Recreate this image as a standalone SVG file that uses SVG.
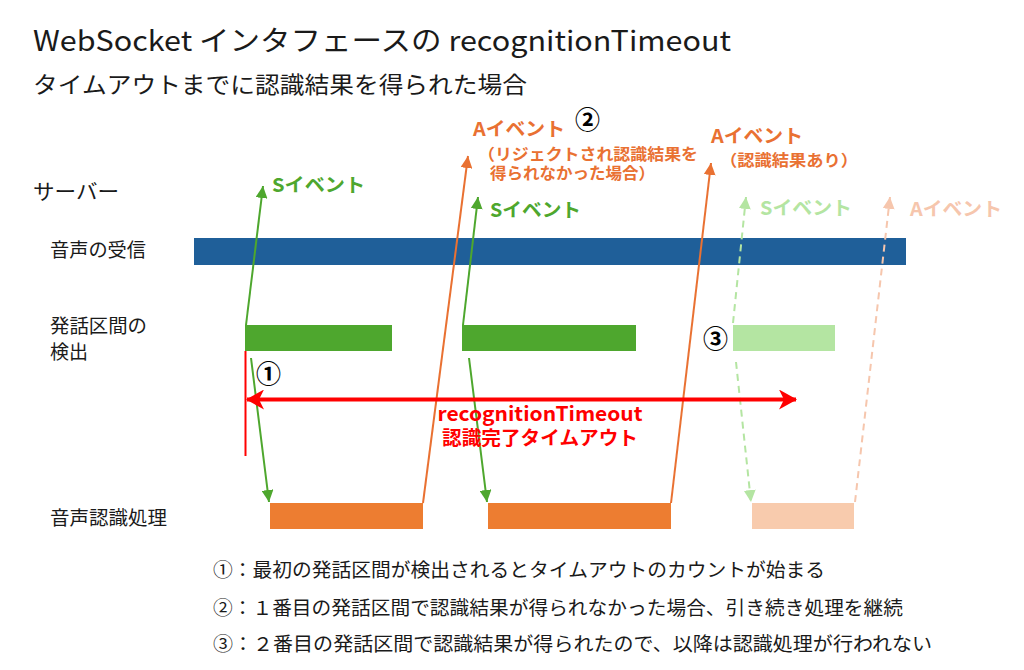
<svg xmlns="http://www.w3.org/2000/svg" width="1024" height="670" viewBox="0 0 1024 670">
<style>
text{font-family:"Noto Sans CJK JP","Noto Sans",sans-serif;}
.t{fill:#1a1a1a;font-weight:400;}
.b{font-weight:700;}
.g{fill:#4EA72E;}
.o{fill:#E97132;}
.lg{fill:#B4E5A2;}
.lo{fill:#F6C6AD;}
.r{fill:#FF0000;}
.lnG{stroke:#4EA72E;stroke-width:2;fill:none;}
.lnO{stroke:#E97132;stroke-width:2;fill:none;}
.lnLG{stroke:#B4E5A2;stroke-width:2;fill:none;stroke-dasharray:7 5;}
.lnLO{stroke:#F6C6AD;stroke-width:2;fill:none;stroke-dasharray:7 5;}
</style>
<defs>
<marker id="aG" viewBox="0 0 10 10" refX="10" refY="5" markerWidth="12" markerHeight="12" markerUnits="userSpaceOnUse" orient="auto"><path d="M0,0 L10,5 L0,10 z" fill="#4EA72E"/></marker>
<marker id="aO" viewBox="0 0 10 10" refX="10" refY="5" markerWidth="12" markerHeight="12" markerUnits="userSpaceOnUse" orient="auto"><path d="M0,0 L10,5 L0,10 z" fill="#E97132"/></marker>
<marker id="aLG" viewBox="0 0 10 10" refX="10" refY="5" markerWidth="12" markerHeight="12" markerUnits="userSpaceOnUse" orient="auto"><path d="M0,0 L10,5 L0,10 z" fill="#B4E5A2"/></marker>
<marker id="aLO" viewBox="0 0 10 10" refX="10" refY="5" markerWidth="12" markerHeight="12" markerUnits="userSpaceOnUse" orient="auto"><path d="M0,0 L10,5 L0,10 z" fill="#F6C6AD"/></marker>
<marker id="aR" viewBox="0 0 18 20" refX="17" refY="10" markerWidth="18" markerHeight="20" markerUnits="userSpaceOnUse" orient="auto-start-reverse"><path d="M0,0 L18,10 L0,20 L5,10 z" fill="#FF0000"/></marker>
</defs>
<rect width="1024" height="670" fill="#ffffff"/>

<g id="title">
<text class="t" x="33" y="51" font-size="28" textLength="698" lengthAdjust="spacingAndGlyphs">WebSocket インタフェースの recognitionTimeout</text>
<text class="t" x="33" y="93" font-size="23" textLength="494" lengthAdjust="spacingAndGlyphs">タイムアウトまでに認識結果を得られた場合</text>
</g>

<g id="lane-labels">
<text class="t" x="33" y="199" font-size="21" textLength="86" lengthAdjust="spacingAndGlyphs">サーバー</text>
<text class="t" x="50" y="257" font-size="19" textLength="96" lengthAdjust="spacingAndGlyphs">音声の受信</text>
<text class="t" font-size="19"><tspan x="50" y="333" textLength="97" lengthAdjust="spacingAndGlyphs">発話区間の</tspan><tspan x="50" y="359" textLength="38" lengthAdjust="spacingAndGlyphs">検出</tspan></text>
<text class="t" x="50" y="525" font-size="19" textLength="117" lengthAdjust="spacingAndGlyphs">音声認識処理</text>
</g>

<g id="audio-receive"><rect x="194" y="238" width="712" height="27" fill="#1F5F99"/></g>
<g id="vad-1"><rect x="245" y="325" width="147" height="26" fill="#4EA72E"/></g>
<g id="vad-2"><rect x="462" y="325" width="174" height="26" fill="#4EA72E"/></g>
<g id="vad-3"><rect x="733" y="325" width="102" height="26" fill="#B4E5A2"/></g>
<g id="asr-1"><rect x="270" y="503" width="153" height="26" fill="#ED7D31"/></g>
<g id="asr-2"><rect x="488" y="503" width="183" height="26" fill="#ED7D31"/></g>
<g id="asr-3"><rect x="752" y="503" width="102" height="26" fill="#F8CBAD"/></g>

<g id="connectors">
<line class="lnG" x1="246" y1="325" x2="263" y2="186" marker-end="url(#aG)"/>
<line class="lnG" x1="251" y1="358" x2="269" y2="502" marker-end="url(#aG)"/>
<line class="lnO" x1="423" y1="503" x2="468" y2="156" marker-end="url(#aO)"/>
<line class="lnG" x1="463" y1="325" x2="478" y2="197" marker-end="url(#aG)"/>
<line class="lnG" x1="469" y1="358" x2="487" y2="502" marker-end="url(#aG)"/>
<line class="lnO" x1="671" y1="503" x2="711" y2="163" marker-end="url(#aO)"/>
<line class="lnLG" x1="733" y1="323" x2="746" y2="197" marker-end="url(#aLG)"/>
<line class="lnLG" x1="736" y1="362" x2="751" y2="502" marker-end="url(#aLG)"/>
<line class="lnLO" x1="855" y1="502" x2="890" y2="197" marker-end="url(#aLO)"/>
<line x1="245.5" y1="351" x2="245.5" y2="456" stroke="#FF0000" stroke-width="2"/>
<line x1="247" y1="399.5" x2="796" y2="399.5" stroke="#FF0000" stroke-width="4" marker-start="url(#aR)" marker-end="url(#aR)"/>
</g>

<g id="event-labels">
<text class="b g" x="272" y="192" font-size="19" textLength="93" lengthAdjust="spacingAndGlyphs">Sイベント</text>
<text class="b g" x="490" y="217" font-size="19" textLength="91" lengthAdjust="spacingAndGlyphs">Sイベント</text>
<text class="b lg" x="760" y="215" font-size="19" textLength="92" lengthAdjust="spacingAndGlyphs">Sイベント</text>
<text class="b lo" x="910" y="216" font-size="19" textLength="92" lengthAdjust="spacingAndGlyphs">Aイベント</text>
<text class="b o" x="473" y="136" font-size="19" textLength="92" lengthAdjust="spacingAndGlyphs">Aイベント</text>
<text class="b o" font-size="16"><tspan x="478" y="160" textLength="220" lengthAdjust="spacingAndGlyphs">（リジェクトされ認識結果を</tspan><tspan x="490" y="179" textLength="165" lengthAdjust="spacingAndGlyphs">得られなかった場合）</tspan></text>
<text class="b o" x="711" y="143" font-size="19" textLength="92" lengthAdjust="spacingAndGlyphs">Aイベント</text>
<text class="b o" x="720" y="166" font-size="16" textLength="138" lengthAdjust="spacingAndGlyphs">（認識結果あり）</text>
</g>

<g id="timeout-label">
<text class="b r" text-anchor="middle"><tspan x="540" y="421" font-size="20" textLength="205" lengthAdjust="spacingAndGlyphs">recognitionTimeout</tspan><tspan x="540" y="445" font-size="19" textLength="196" lengthAdjust="spacingAndGlyphs">認識完了タイムアウト</tspan></text>
</g>

<g id="markers-num">
<text class="b" x="256" y="383" font-size="25" fill="#000">①</text>
<text class="b" x="575" y="129" font-size="25" fill="#000">②</text>
<text class="b" x="703" y="348" font-size="25" fill="#000">③</text>
</g>

<g id="notes">
<text class="t" x="213" y="577" font-size="19" textLength="612" lengthAdjust="spacingAndGlyphs">①：最初の発話区間が検出されるとタイムアウトのカウントが始まる</text>
<text class="t" x="213" y="615" font-size="19" textLength="690" lengthAdjust="spacingAndGlyphs">②：１番目の発話区間で認識結果が得られなかった場合、引き続き処理を継続</text>
<text class="t" x="213" y="651" font-size="19" textLength="719" lengthAdjust="spacingAndGlyphs">③：２番目の発話区間で認識結果が得られたので、以降は認識処理が行われない</text>
</g>
</svg>
